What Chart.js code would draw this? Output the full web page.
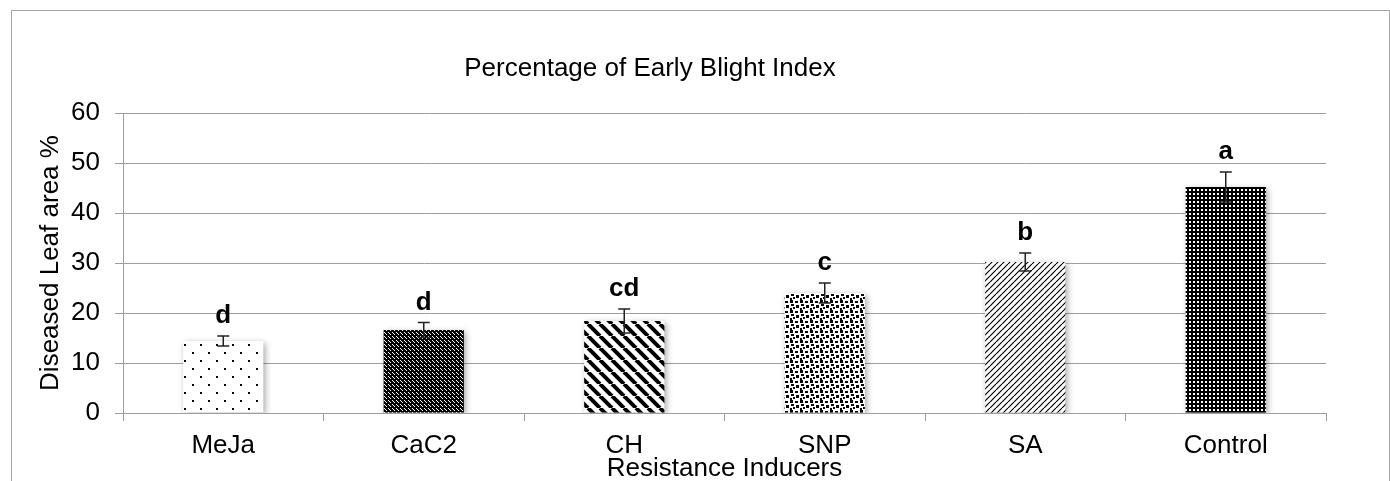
<!DOCTYPE html>
<html>
<head>
<meta charset="utf-8">
<script src="https://cdn.jsdelivr.net/npm/chart.js@4"></script>
<style>
  body{margin:0;background:#fff;overflow:hidden}
  #wrap{position:relative;width:1390px;height:481px}
  #frame{position:absolute;left:11px;top:10px;width:1379px;height:500px;border:1px solid #a6a6a6;box-sizing:border-box;pointer-events:none}
</style>
</head>
<body>
<div id="wrap">
  <canvas id="chart" width="1390" height="481"></canvas>
  <div id="frame"></div>
</div>
<script>
// DATA
const categories = ["MeJa","CaC2","CH","SNP","SA","Control"];
const values = [14.4, 16.6, 18.4, 24.0, 30.2, 45.2];
const errors = [1.0, 1.5, 2.4, 2.0, 1.8, 3.0];
const letters = ["d","d","cd","c","b","a"];

const FONT = "'Liberation Sans', Arial, sans-serif";
const GRID = "#9e9e9e";

// PATTERNS
function tile(w,h,draw){
  let c=document.createElement("canvas");
  c.width=w;c.height=h;
  let x=c.getContext("2d");
  draw(x,w,h);
  return x.createPattern(c,"repeat");
}

function patDots(){
  return tile(16,16,(x)=>{
    x.fillStyle="#fff";x.fillRect(0,0,16,16);
    x.fillStyle="#000";
    x.fillRect(0,0,2,2);
    x.fillRect(8,8,2,2);
  });
}
function patChecker(){
  return tile(4,4,(x)=>{
    x.fillStyle="#000";x.fillRect(0,0,4,4);
    x.fillStyle="#fff";
    x.fillRect(0,0,1,1);
    x.fillRect(2,2,1,1);
    x.fillRect(1,1,1,1);
  });
}
function patWide(){
  return tile(12,12,(x)=>{
    x.fillStyle="#fff";x.fillRect(0,0,12,12);
    x.strokeStyle="#000";x.lineWidth=4;
    for(let o=-12;o<=12;o+=12){
      x.beginPath();x.moveTo(o,0);x.lineTo(o+12,12);x.stroke();
    }
  });
}
function patConfetti(){
  return tile(10,10,(x)=>{
    x.fillStyle="#fff";x.fillRect(0,0,10,10);
    x.fillStyle="#000";
    x.fillRect(0,0,3,3);
    x.fillRect(5,1,3,2);
    x.fillRect(1,4,3,2);
    x.fillRect(6,5,3,3);
    x.fillRect(0,8,2,2);
    x.fillRect(3,7,2,2);
  });
}
function patThin(){
  return tile(6,6,(x)=>{
    x.fillStyle="#fff";x.fillRect(0,0,6,6);
    x.strokeStyle="#000";x.lineWidth=1.2;
    for(let o=-6;o<=6;o+=6){
      x.beginPath();x.moveTo(o,6);x.lineTo(o+6,0);x.stroke();
    }
  });
}
function patFine(){
  return tile(4,4,(x)=>{
    x.fillStyle="#000";x.fillRect(0,0,4,4);
    x.fillStyle="#fff";
    x.fillRect(1,1,2,2);
  });
}

const fills=[patDots(),patChecker(),patWide(),patConfetti(),patThin(),patFine()];

// PLUGINS
const shadowPlugin={
  id:"shadow",
  beforeDatasetsDraw(chart){
    let c=chart.ctx;
    c.save();
    c.shadowColor="rgba(0,0,0,0.35)";
    c.shadowBlur=6;
    c.shadowOffsetX=2;
    c.shadowOffsetY=2;
  },
  afterDatasetsDraw(chart){
    chart.ctx.restore();
  }
};

const errorPlugin={
  id:"errors",
  afterDatasetsDraw(chart){
    let c=chart.ctx, y=chart.scales.y;
    let meta=chart.getDatasetMeta(0);
    c.save();
    c.strokeStyle="#222";
    c.lineWidth=1.5;
    meta.data.forEach((bar,i)=>{
      let hi=y.getPixelForValue(values[i]+errors[i]);
      let lo=y.getPixelForValue(values[i]-errors[i]);
      c.beginPath();
      c.moveTo(bar.x,hi);c.lineTo(bar.x,lo);
      c.moveTo(bar.x-6,hi);c.lineTo(bar.x+6,hi);
      c.moveTo(bar.x-6,lo);c.lineTo(bar.x+6,lo);
      c.stroke();
      // significance letter
      c.fillStyle="#000";
      c.font="bold 26px "+FONT;
      c.textAlign="center";
      c.textBaseline="alphabetic";
      c.fillText(letters[i],bar.x,hi-13);
    });
    c.restore();
  }
};

const titlePlugin={
  id:"titles",
  afterDraw(chart){
    let c=chart.ctx, a=chart.chartArea;
    c.save();
    c.fillStyle="#000";
    c.font="26px "+FONT;
    c.textBaseline="alphabetic";
    c.textAlign="center";
    c.fillText("Percentage of Early Blight Index",650,76);
    c.fillText("Resistance Inducers",(a.left+a.right)/2,476);
    c.translate(58,(a.top+a.bottom)/2);
    c.rotate(-Math.PI/2);
    c.fillText("Diseased Leaf area %",0,0);
    c.restore();
  }
};

// CHART
new Chart(document.getElementById("chart"),{
  type:"bar",
  data:{
    labels:categories,
    datasets:[{
      data:values,
      backgroundColor:fills,
      borderWidth:0,
      barPercentage:0.4,
      categoryPercentage:1
    }]
  },
  options:{
    responsive:false,
    animation:false,
    layout:{padding:{top:113,right:64,left:0,bottom:0}},
    plugins:{legend:{display:false},tooltip:{enabled:false}},
    scales:{
      x:{
        afterFit(s){s.height=68;},
        grid:{offset:true,drawOnChartArea:false,tickLength:8,color:GRID},
        border:{color:GRID},
        ticks:{color:"#000",font:{family:FONT,size:26},padding:9,maxRotation:0}
      },
      y:{
        min:0,max:60,
        afterFit(s){s.width=123;},
        grid:{color:GRID,tickLength:8},
        border:{color:GRID},
        ticks:{stepSize:10,color:"#000",font:{family:FONT,size:26},padding:15}
      }
    }
  },
  plugins:[shadowPlugin,errorPlugin,titlePlugin]
});
</script>
</body>
</html>
